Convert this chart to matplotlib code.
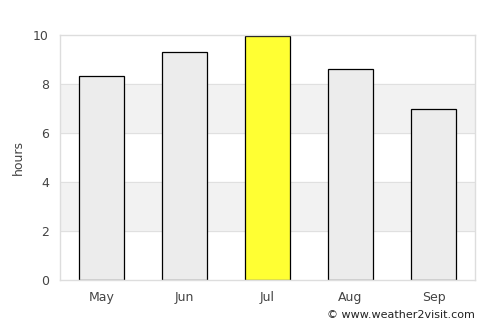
import matplotlib
matplotlib.use("Agg")
import matplotlib.pyplot as plt

months = ["May", "Jun", "Jul", "Aug", "Sep"]
hours = [8.35, 9.3, 9.95, 8.6, 7.0]
highlight = "Jul"
yticks = [0, 2, 4, 6, 8, 10]

fig = plt.figure(figsize=(5, 3.25), dpi=100)
ax = fig.add_axes([0.12, 0.138, 0.83, 0.754])

for lo, hi in [(2, 4), (6, 8)]:
    ax.axhspan(lo, hi, color="#f2f2f2", zorder=0)
for y in yticks[1:-1]:
    ax.axhline(y, color="#e0e0e0", lw=0.8, zorder=0.5)

x = range(len(months))
colors = ["#ffff33" if m == highlight else "#ececec" for m in months]
ax.bar(x, hours, width=0.55, color=colors, edgecolor="black", linewidth=0.9, zorder=2)

ax.set_xlim(-0.5, len(months) - 0.5)
ax.set_ylim(0, 10)
ax.set_yticks(yticks)
ax.set_xticks(list(x))
ax.set_xticklabels(months)
ax.tick_params(axis="both", length=0, labelsize=9, colors="#444444", pad=8)
for s in ax.spines.values():
    s.set_color("#dddddd")
    s.set_linewidth(1)
ax.set_ylabel("hours", fontsize=9, color="#444444", labelpad=6)

fig.text(0.95, 0.015, "© www.weather2visit.com", ha="right", va="bottom", fontsize=8, color="#222222")

fig.savefig("out.png", dpi=100, facecolor="white")
